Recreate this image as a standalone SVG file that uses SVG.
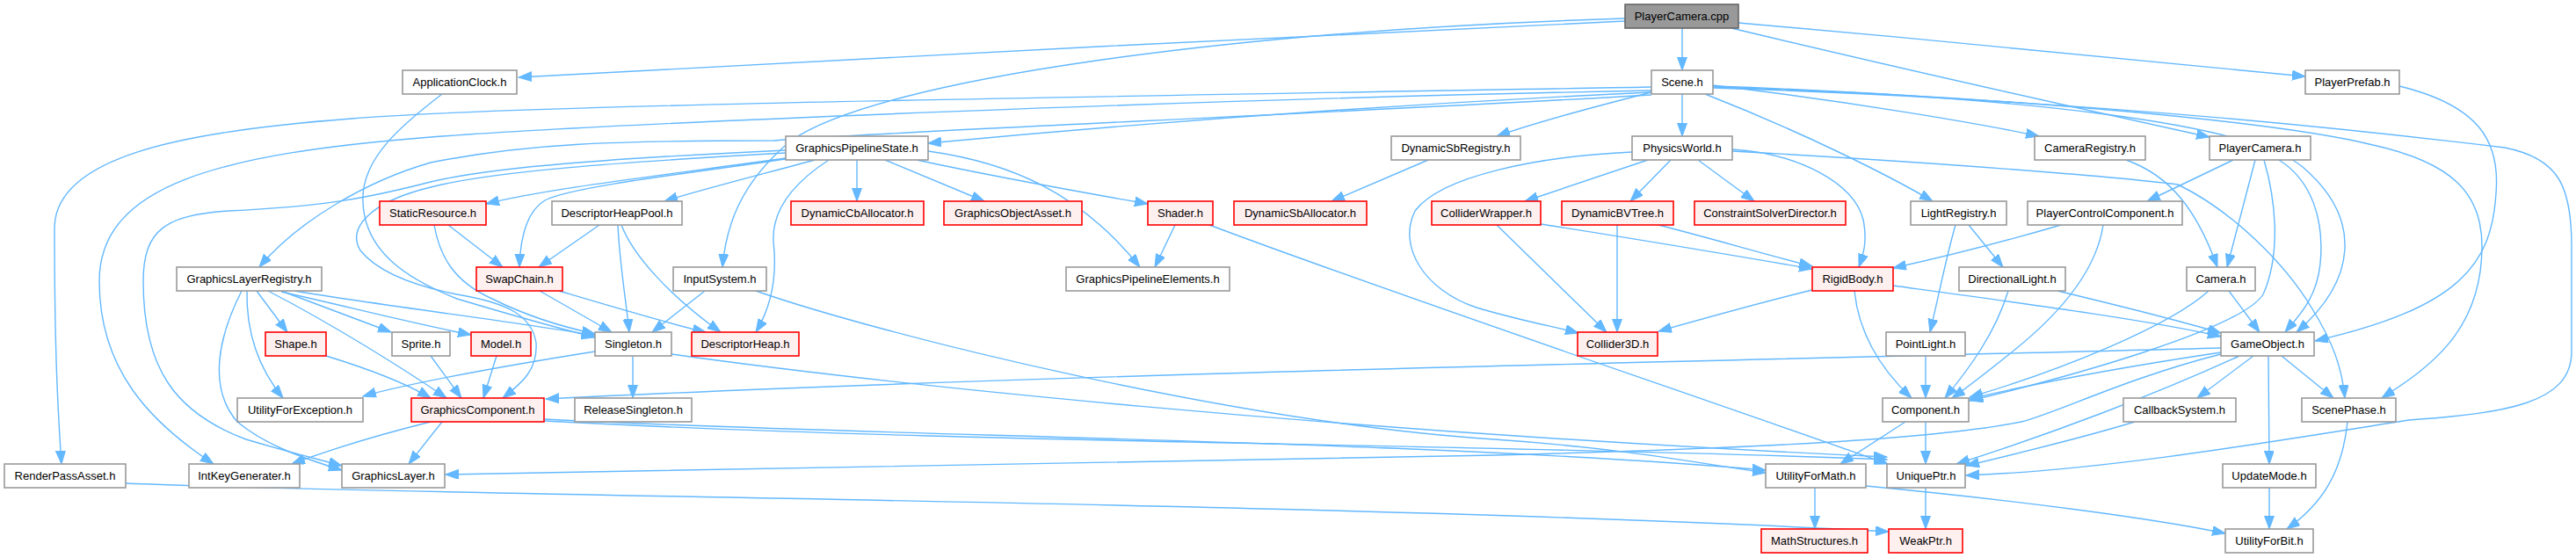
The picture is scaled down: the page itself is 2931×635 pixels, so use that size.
<svg xmlns="http://www.w3.org/2000/svg" width="2931" height="635" viewBox="0 0 2931 635">
<style>
.e{fill:none;stroke:#63b8ff;stroke-width:1.4;marker-end:url(#arr)}
.n rect{fill:#ffffff;stroke:#999999;stroke-width:1.6}
.r rect{fill:#fff0f0;stroke:#ff0000;stroke-width:1.6}
.root rect{fill:#999999;stroke:#666666;stroke-width:1.6}
text{font-family:"Liberation Sans",Arial,sans-serif;font-size:13px;fill:#000;text-anchor:middle}
</style>
<defs>
<marker id="arr" markerUnits="userSpaceOnUse" markerWidth="16" markerHeight="12" refX="15" refY="5.5" orient="auto">
<path d="M0,0 L15,5.5 L0,11 z" fill="#63b8ff" stroke="#63b8ff" stroke-width="1"/>
</marker>
</defs>
<rect width="2931" height="635" fill="#ffffff"/>
<g id="edges">
<path class="e" d="M1849,24 C1500,40 900,70 590,88"/>
<path class="e" d="M1914,32 L1914,80"/>
<path class="e" d="M1978,26 C2200,45 2450,70 2623,87"/>
<path class="e" d="M1970,32 C2150,75 2350,120 2514,156"/>
<path class="e" d="M1849,21 C1400,35 1000,90 900,160 C840,210 826,260 822,304"/>
<path class="e" d="M1879,99 C1400,108 600,118 400,135 C200,150 62,180 62,260 C62,400 66,470 70,528"/>
<path class="e" d="M1879,103 C1400,112 700,140 490,156 C250,175 113,210 113,320 C113,420 170,480 243,528"/>
<path class="e" d="M1879,108 C1500,130 1000,150 880,160 C700,160 600,163 490,185 C420,205 340,250 295,304"/>
<path class="e" d="M1879,105 C1600,118 1300,140 1056,163"/>
<path class="e" d="M1879,105 C1800,125 1740,142 1703,155"/>
<path class="e" d="M1914,107 L1914,155"/>
<path class="e" d="M1949,97 C2100,115 2250,140 2320,155"/>
<path class="e" d="M1940,107 C2050,150 2150,200 2199,229"/>
<path class="e" d="M1949,98 C2300,110 2560,140 2620,190 C2690,250 2680,320 2613,378"/>
<path class="e" d="M1949,99 C2300,110 2600,140 2700,165 C2790,185 2824,220 2824,280 C2824,380 2760,420 2710,453"/>
<path class="e" d="M1949,100 C2400,115 2700,150 2850,168 C2910,180 2926,210 2926,280 L2926,400 C2926,460 2850,470 2741,478 C2600,500 2400,535 2237,541"/>
<path class="e" d="M503,107 C460,140 410,180 413,230 C415,290 470,320 520,340 C580,358 630,372 677,384"/>
<path class="e" d="M894,180 C750,200 620,215 553,232"/>
<path class="e" d="M894,181 C800,195 650,212 620,228 C600,240 592,270 591,304"/>
<path class="e" d="M927,182 C880,195 800,215 756,229"/>
<path class="e" d="M975,182 L975,229"/>
<path class="e" d="M1007,182 L1120,229"/>
<path class="e" d="M1043,182 C1150,205 1250,222 1306,232"/>
<path class="e" d="M1056,172 C1150,185 1230,220 1297,304"/>
<path class="e" d="M943,182 C900,210 878,240 880,275 C884,310 880,345 860,378"/>
<path class="e" d="M894,171 C700,180 560,190 490,207 C420,225 370,235 260,240 C190,245 163,260 163,320 C163,420 200,470 280,500 C330,515 360,522 389,530"/>
<path class="e" d="M894,174 C700,185 560,195 490,213 C420,230 395,260 410,285 C430,310 470,325 520,335 C580,345 605,360 610,390 C612,420 595,435 572,453"/>
<path class="e" d="M510,256 L572,304"/>
<path class="e" d="M494,256 C500,290 515,320 560,340 C600,360 640,372 677,380"/>
<path class="e" d="M682,256 L613,304"/>
<path class="e" d="M703,256 C705,300 712,340 716,378"/>
<path class="e" d="M707,256 C720,290 760,335 820,378"/>
<path class="e" d="M614,331 L696,378"/>
<path class="e" d="M636,331 C700,350 760,368 803,378"/>
<path class="e" d="M802,331 L742,378"/>
<path class="e" d="M860,331 C1000,380 1400,480 1700,500 C1850,510 1950,530 2009,538"/>
<path class="e" d="M1337,256 L1314,304"/>
<path class="e" d="M1376,256 C1600,340 1900,440 2148,528"/>
<path class="e" d="M1625,182 L1515,229"/>
<path class="e" d="M1875,182 L1735,229"/>
<path class="e" d="M1901,182 L1855,229"/>
<path class="e" d="M1932,182 L1996,229"/>
<path class="e" d="M1971,170 C2050,175 2110,210 2120,250 C2125,275 2120,290 2115,304"/>
<path class="e" d="M1857,173 C1750,178 1640,200 1610,240 C1590,280 1620,330 1680,350 C1730,365 1770,372 1796,379"/>
<path class="e" d="M1971,172 C2200,185 2400,200 2478,210 C2540,240 2600,300 2630,350 C2655,390 2665,420 2668,453"/>
<path class="e" d="M1703,256 L1828,378"/>
<path class="e" d="M1753,255 C1850,270 1980,292 2062,306"/>
<path class="e" d="M1840,256 L1840,378"/>
<path class="e" d="M1887,256 C1950,272 2010,290 2062,303"/>
<path class="e" d="M2062,330 C2000,345 1940,362 1887,377"/>
<path class="e" d="M2110,331 C2115,380 2140,420 2175,453"/>
<path class="e" d="M2154,325 C2300,345 2450,365 2527,383"/>
<path class="e" d="M2225,256 C2215,290 2205,340 2196,378"/>
<path class="e" d="M2240,256 L2279,304"/>
<path class="e" d="M2345,256 C2280,275 2200,295 2154,305"/>
<path class="e" d="M2393,256 C2385,310 2340,360 2290,400 C2265,420 2240,440 2221,453"/>
<path class="e" d="M2285,331 C2270,380 2240,420 2213,453"/>
<path class="e" d="M2341,331 C2420,350 2480,365 2527,379"/>
<path class="e" d="M2191,405 L2191,453"/>
<path class="e" d="M2419,182 C2470,200 2500,240 2523,304"/>
<path class="e" d="M2541,182 L2443,229"/>
<path class="e" d="M2566,182 L2534,304"/>
<path class="e" d="M2593,182 C2630,205 2645,250 2640,300 C2636,340 2615,360 2600,378"/>
<path class="e" d="M2576,182 C2590,230 2595,290 2575,335 C2550,375 2350,430 2241,456"/>
<path class="e" d="M2730,98 C2820,120 2845,160 2840,220 C2835,300 2800,350 2634,388"/>
<path class="e" d="M2513,331 C2470,370 2350,420 2241,452"/>
<path class="e" d="M2536,331 L2571,378"/>
<path class="e" d="M2527,396 C2000,410 1200,425 621,454"/>
<path class="e" d="M2527,401 C2400,420 2300,440 2241,454"/>
<path class="e" d="M2527,403 C2420,430 2340,470 2300,480 C2200,500 2000,510 1700,518 C1200,530 800,538 507,540"/>
<path class="e" d="M2548,405 C2450,450 2330,495 2226,528"/>
<path class="e" d="M2564,405 L2500,453"/>
<path class="e" d="M2596,405 L2655,453"/>
<path class="e" d="M2581,405 L2582,528"/>
<path class="e" d="M2429,480 C2380,495 2300,515 2237,530"/>
<path class="e" d="M2671,480 C2665,540 2640,575 2602,602"/>
<path class="e" d="M2582,555 L2582,602"/>
<path class="e" d="M2168,480 L2094,528"/>
<path class="e" d="M2191,480 L2191,528"/>
<path class="e" d="M2065,555 L2065,602"/>
<path class="e" d="M2123,553 C2300,570 2450,590 2532,607"/>
<path class="e" d="M2191,555 L2191,602"/>
<path class="e" d="M143,550 C500,565 1500,570 2149,605"/>
<path class="e" d="M490,480 C430,495 380,510 332,528"/>
<path class="e" d="M503,480 L465,528"/>
<path class="e" d="M619,477 C1000,497 1600,500 2009,535"/>
<path class="e" d="M619,479 C1100,505 1700,505 2147,523"/>
<path class="e" d="M720,405 L720,453"/>
<path class="e" d="M677,400 C550,420 450,440 413,451"/>
<path class="e" d="M764,403 C1000,436 1500,490 2147,520"/>
<path class="e" d="M275,331 C250,380 235,440 270,480 C300,505 340,520 389,535"/>
<path class="e" d="M281,331 C280,380 295,420 322,453"/>
<path class="e" d="M292,331 L327,378"/>
<path class="e" d="M320,331 L445,378"/>
<path class="e" d="M320,332 C400,350 470,368 536,381"/>
<path class="e" d="M335,331 C450,350 600,368 677,382"/>
<path class="e" d="M305,331 C380,370 460,420 508,453"/>
<path class="e" d="M371,405 C420,420 460,435 490,453"/>
<path class="e" d="M490,405 L525,453"/>
<path class="e" d="M565,405 L550,453"/>
</g>
<g id="n_PlayerCamera_cpp" class="root"><rect x="1849" y="5" width="129" height="27"/><text x="1913.5" y="23">PlayerCamera.cpp</text></g>
<g id="n_ApplicationClock" class="n"><rect x="458" y="80" width="130" height="27"/><text x="523" y="98">ApplicationClock.h</text></g>
<g id="n_Scene" class="n"><rect x="1879" y="80" width="70" height="27"/><text x="1914" y="98">Scene.h</text></g>
<g id="n_PlayerPrefab" class="n"><rect x="2623" y="80" width="107" height="27"/><text x="2676.5" y="98">PlayerPrefab.h</text></g>
<g id="n_GraphicsPipelineState" class="n"><rect x="894" y="155" width="162" height="27"/><text x="975" y="173">GraphicsPipelineState.h</text></g>
<g id="n_DynamicSbRegistry" class="n"><rect x="1583" y="155" width="147" height="27"/><text x="1656.5" y="173">DynamicSbRegistry.h</text></g>
<g id="n_PhysicsWorld" class="n"><rect x="1857" y="155" width="114" height="27"/><text x="1914" y="173">PhysicsWorld.h</text></g>
<g id="n_CameraRegistry" class="n"><rect x="2315" y="155" width="126" height="27"/><text x="2378" y="173">CameraRegistry.h</text></g>
<g id="n_PlayerCamera_h" class="n"><rect x="2514" y="155" width="115" height="27"/><text x="2571.5" y="173">PlayerCamera.h</text></g>
<g id="n_StaticResource" class="r"><rect x="432" y="229" width="121" height="27"/><text x="492.5" y="247">StaticResource.h</text></g>
<g id="n_DescriptorHeapPool" class="n"><rect x="628" y="229" width="148" height="27"/><text x="702" y="247">DescriptorHeapPool.h</text></g>
<g id="n_DynamicCbAllocator" class="r"><rect x="900" y="229" width="151" height="27"/><text x="975.5" y="247">DynamicCbAllocator.h</text></g>
<g id="n_GraphicsObjectAsset" class="r"><rect x="1074" y="229" width="157" height="27"/><text x="1152.5" y="247">GraphicsObjectAsset.h</text></g>
<g id="n_Shader" class="r"><rect x="1306" y="229" width="74" height="27"/><text x="1343" y="247">Shader.h</text></g>
<g id="n_DynamicSbAllocator" class="r"><rect x="1404" y="229" width="151" height="27"/><text x="1479.5" y="247">DynamicSbAllocator.h</text></g>
<g id="n_ColliderWrapper" class="r"><rect x="1629" y="229" width="124" height="27"/><text x="1691" y="247">ColliderWrapper.h</text></g>
<g id="n_DynamicBVTree" class="r"><rect x="1777" y="229" width="127" height="27"/><text x="1840.5" y="247">DynamicBVTree.h</text></g>
<g id="n_ConstraintSolverDirector" class="r"><rect x="1928" y="229" width="172" height="27"/><text x="2014" y="247">ConstraintSolverDirector.h</text></g>
<g id="n_LightRegistry" class="n"><rect x="2174" y="229" width="109" height="27"/><text x="2228.5" y="247">LightRegistry.h</text></g>
<g id="n_PlayerControlComponent" class="n"><rect x="2307" y="229" width="176" height="27"/><text x="2395" y="247">PlayerControlComponent.h</text></g>
<g id="n_GraphicsLayerRegistry" class="n"><rect x="201" y="304" width="165" height="27"/><text x="283.5" y="322">GraphicsLayerRegistry.h</text></g>
<g id="n_SwapChain" class="r"><rect x="542" y="304" width="98" height="27"/><text x="591" y="322">SwapChain.h</text></g>
<g id="n_InputSystem" class="n"><rect x="766" y="304" width="106" height="27"/><text x="819" y="322">InputSystem.h</text></g>
<g id="n_GraphicsPipelineElements" class="n"><rect x="1213" y="304" width="186" height="27"/><text x="1306" y="322">GraphicsPipelineElements.h</text></g>
<g id="n_RigidBody" class="r"><rect x="2062" y="304" width="92" height="27"/><text x="2108" y="322">RigidBody.h</text></g>
<g id="n_DirectionalLight" class="n"><rect x="2229" y="304" width="121" height="27"/><text x="2289.5" y="322">DirectionalLight.h</text></g>
<g id="n_Camera" class="n"><rect x="2488" y="304" width="78" height="27"/><text x="2527" y="322">Camera.h</text></g>
<g id="n_Shape" class="r"><rect x="302" y="378" width="69" height="27"/><text x="336.5" y="396">Shape.h</text></g>
<g id="n_Sprite" class="n"><rect x="446" y="378" width="66" height="27"/><text x="479" y="396">Sprite.h</text></g>
<g id="n_Model" class="r"><rect x="536" y="378" width="68" height="27"/><text x="570" y="396">Model.h</text></g>
<g id="n_Singleton" class="n"><rect x="677" y="378" width="87" height="27"/><text x="720.5" y="396">Singleton.h</text></g>
<g id="n_DescriptorHeap" class="r"><rect x="787" y="378" width="122" height="27"/><text x="848" y="396">DescriptorHeap.h</text></g>
<g id="n_Collider3D" class="r"><rect x="1795" y="378" width="91" height="27"/><text x="1840.5" y="396">Collider3D.h</text></g>
<g id="n_PointLight" class="n"><rect x="2146" y="378" width="90" height="27"/><text x="2191" y="396">PointLight.h</text></g>
<g id="n_GameObject" class="n"><rect x="2527" y="378" width="106" height="27"/><text x="2580" y="396">GameObject.h</text></g>
<g id="n_UtilityForException" class="n"><rect x="270" y="453" width="143" height="27"/><text x="341.5" y="471">UtilityForException.h</text></g>
<g id="n_GraphicsComponent" class="r"><rect x="468" y="453" width="151" height="27"/><text x="543.5" y="471">GraphicsComponent.h</text></g>
<g id="n_ReleaseSingleton" class="n"><rect x="654" y="453" width="133" height="27"/><text x="720.5" y="471">ReleaseSingleton.h</text></g>
<g id="n_Component" class="n"><rect x="2142" y="453" width="98" height="27"/><text x="2191" y="471">Component.h</text></g>
<g id="n_CallbackSystem" class="n"><rect x="2416" y="453" width="128" height="27"/><text x="2480" y="471">CallbackSystem.h</text></g>
<g id="n_ScenePhase" class="n"><rect x="2619" y="453" width="107" height="27"/><text x="2672.5" y="471">ScenePhase.h</text></g>
<g id="n_RenderPassAsset" class="n"><rect x="5" y="528" width="138" height="27"/><text x="74" y="546">RenderPassAsset.h</text></g>
<g id="n_IntKeyGenerater" class="n"><rect x="215" y="528" width="126" height="27"/><text x="278" y="546">IntKeyGenerater.h</text></g>
<g id="n_GraphicsLayer" class="n"><rect x="389" y="528" width="117" height="27"/><text x="447.5" y="546">GraphicsLayer.h</text></g>
<g id="n_UtilityForMath" class="n"><rect x="2009" y="528" width="114" height="27"/><text x="2066" y="546">UtilityForMath.h</text></g>
<g id="n_UniquePtr" class="n"><rect x="2147" y="528" width="89" height="27"/><text x="2191.5" y="546">UniquePtr.h</text></g>
<g id="n_UpdateMode" class="n"><rect x="2529" y="528" width="106" height="27"/><text x="2582" y="546">UpdateMode.h</text></g>
<g id="n_MathStructures" class="r"><rect x="2004" y="602" width="121" height="27"/><text x="2064.5" y="620">MathStructures.h</text></g>
<g id="n_WeakPtr" class="r"><rect x="2149" y="602" width="84" height="27"/><text x="2191" y="620">WeakPtr.h</text></g>
<g id="n_UtilityForBit" class="n"><rect x="2532" y="602" width="100" height="27"/><text x="2582" y="620">UtilityForBit.h</text></g>
</svg>
